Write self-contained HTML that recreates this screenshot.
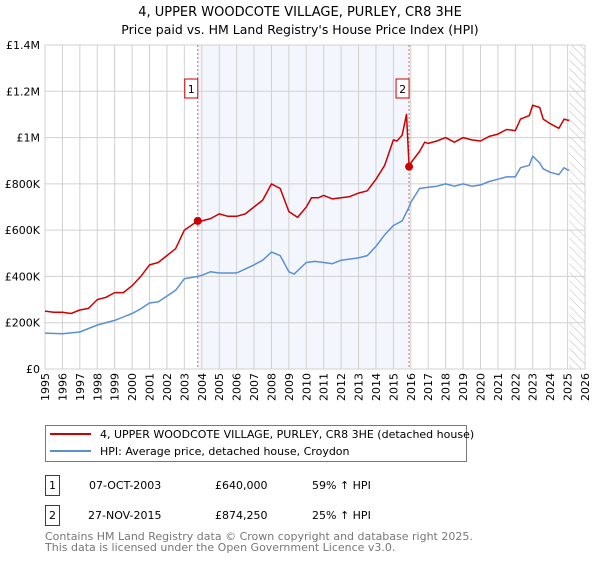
<!DOCTYPE html>
<html><head><meta charset="utf-8"><style>
body{margin:0;background:#fff;font-family:"DejaVu Sans","Liberation Sans",sans-serif;}
svg text{font-family:"DejaVu Sans","Liberation Sans",sans-serif;}
</style></head><body>
<svg id="chart" width="600" height="560" xmlns="http://www.w3.org/2000/svg">
<defs><pattern id="hatch" width="6" height="6" patternUnits="userSpaceOnUse" patternTransform="rotate(-45)"><line x1="0" y1="0" x2="0" y2="6" stroke="#bbb" stroke-width="1"/></pattern></defs>
<text x="300" y="16" text-anchor="middle" font-size="13">4, UPPER WOODCOTE VILLAGE, PURLEY, CR8 3HE</text>
<text x="300" y="34" text-anchor="middle" font-size="12.5">Price paid vs. HM Land Registry's House Price Index (HPI)</text>
<g id="plot"></g>
<g>
<rect x="45.5" y="425.5" width="421" height="36" fill="#fff" stroke="#777"/>
<line x1="50" y1="434" x2="91" y2="434" stroke="#cc0000" stroke-width="2"/>
<text x="100" y="438" font-size="11">4, UPPER WOODCOTE VILLAGE, PURLEY, CR8 3HE (detached house)</text>
<line x1="50" y1="451" x2="91" y2="451" stroke="#5b8fd4" stroke-width="2"/>
<text x="100" y="455" font-size="11">HPI: Average price, detached house, Croydon</text>
</g>
<g font-size="11">
<rect x="45.5" y="475.5" width="14" height="20" fill="#fff" stroke="#cc0000"/><text x="52.5" y="489" text-anchor="middle">1</text>
<text x="89" y="489">07-OCT-2003</text><text x="215" y="489">£640,000</text><text x="312" y="489">59% ↑ HPI</text>
<rect x="45.5" y="505.5" width="14" height="20" fill="#fff" stroke="#cc0000"/><text x="52.5" y="519" text-anchor="middle">2</text>
<text x="88" y="519">27-NOV-2015</text><text x="215" y="519">£874,250</text><text x="312" y="519">25% ↑ HPI</text>
</g>
<text x="45" y="540" font-size="11" fill="#777">Contains HM Land Registry data © Crown copyright and database right 2025.</text>
<text x="45" y="551" font-size="11" fill="#777">This data is licensed under the Open Government Licence v3.0.</text>
</svg>
<script>
const yTicks=[0,200,400,600,800,1000,1200,1400];
const yTickLabels=["£0","£200K","£400K","£600K","£800K","£1M","£1.2M","£1.4M"];
const xYears=[1995,1996,1997,1998,1999,2000,2001,2002,2003,2004,2005,2006,2007,2008,2009,2010,2011,2012,2013,2014,2015,2016,2017,2018,2019,2020,2021,2022,2023,2024,2025,2026];
const saleDates=[2003.77,2015.9];
const salePrices=[640,874.25];
const saleLabels=["1","2"];
const redT=[1995,1995.5,1996,1996.5,1997,1997.5,1998,1998.5,1999,1999.5,2000,2000.5,2001,2001.5,2002,2002.5,2003,2003.77,2004,2004.5,2005,2005.5,2006,2006.5,2007,2007.5,2008,2008.5,2009,2009.5,2010,2010.3,2010.7,2011,2011.5,2012,2012.5,2013,2013.5,2014,2014.5,2015,2015.2,2015.5,2015.75,2015.9,2016,2016.5,2016.8,2017,2017.5,2018,2018.5,2019,2019.5,2020,2020.5,2021,2021.5,2022,2022.3,2022.8,2023,2023.4,2023.6,2024,2024.5,2024.8,2025,2025.1];
const redV=[250,245,245,240,255,262,300,310,330,330,360,400,450,460,490,520,600,640,640,650,670,660,660,670,700,730,800,780,680,655,700,740,740,750,735,740,745,760,770,820,880,990,985,1010,1100,874,890,940,980,975,985,1000,980,1000,990,985,1005,1015,1035,1030,1080,1095,1140,1130,1080,1060,1040,1080,1075,1075];
const blueT=[1995,1996,1997,1998,1999,2000,2000.5,2001,2001.5,2002,2002.5,2003,2003.77,2004,2004.5,2005,2006,2007,2007.5,2008,2008.5,2009,2009.3,2010,2010.5,2011,2011.5,2012,2013,2013.5,2014,2014.5,2015,2015.5,2015.9,2016,2016.5,2017,2017.5,2018,2018.5,2019,2019.5,2020,2020.5,2021,2021.5,2022,2022.3,2022.8,2023,2023.4,2023.6,2024,2024.5,2024.8,2025,2025.1];
const blueV=[155,152,160,190,210,240,260,285,290,315,340,390,400,405,420,415,415,450,470,505,490,420,410,460,465,460,455,470,480,490,530,580,620,640,700,720,780,785,790,800,790,800,790,795,810,820,830,830,870,880,920,890,865,850,840,870,860,860];
const X0=45,X1=585,Y0=369,Y1=45;
const xs=t=>X0+(t-1995)/(2026-1995)*(X1-X0);
const ys=v=>Y0-v/1400*(Y0-Y1);
const NS="http://www.w3.org/2000/svg";
const g=document.getElementById('plot');
function el(tag,attrs,parent){const e=document.createElementNS(NS,tag);for(const k in attrs)e.setAttribute(k,attrs[k]);(parent||g).appendChild(e);return e;}
const band=el('rect',{x:xs(saleDates[0]),y:Y1,width:xs(saleDates[1])-xs(saleDates[0]),height:Y0-Y1,fill:'#eef3fc',opacity:0.7});


const hatch=el('rect',{x:xs(2025.1),y:Y1,width:X1-xs(2025.1),height:Y0-Y1,fill:'url(#hatch)'});


xYears.forEach(yr=>{const l=el('line',{x1:xs(yr),x2:xs(yr),y1:Y1,y2:Y0,stroke:'#d0d0d0','stroke-width':1});


const x=xs(yr)+4,y=Y0+4;
const t=el('text',{x:x,y:y,'text-anchor':'end','font-size':11,transform:'rotate(-90 '+x+' '+y+')'});t.textContent=yr;

});
yTicks.forEach((v,i)=>{const l=el('line',{x1:X0,x2:X1,y1:ys(v),y2:ys(v),stroke:'#d0d0d0','stroke-width':1});


const t=el('text',{x:X0-5,y:ys(v)+4,'text-anchor':'end','font-size':11});t.textContent=yTickLabels[i];

});
saleDates.forEach((d,i)=>{const l=el('line',{x1:xs(d),x2:xs(d),y1:Y1,y2:Y0,stroke:'#e06060','stroke-width':1,'stroke-dasharray':'2,2'});


const r=el('rect',{x:xs(d)-13,y:79,width:13,height:19,fill:'#fff',stroke:'#cc0000'});


const t=el('text',{x:xs(d)-6.5,y:93,'text-anchor':'middle','font-size':11});t.textContent=saleLabels[i];

});
function line(T,V,color,name){const p=el('path',{d:T.map((t,i)=>(i?'L':'M')+xs(t).toFixed(1)+','+ys(V[i]).toFixed(1)).join(''),fill:'none',stroke:color,'stroke-width':1.5,'stroke-linejoin':'round'});

}
line(blueT,blueV,'#5b8fd4','hpi-line');
line(redT,redV,'#cc0000','price-line');
saleDates.forEach((d,i)=>{const c=el('circle',{cx:xs(d),cy:ys(salePrices[i]),r:4,fill:'#cc0000'});

});
</script>
</body></html>
